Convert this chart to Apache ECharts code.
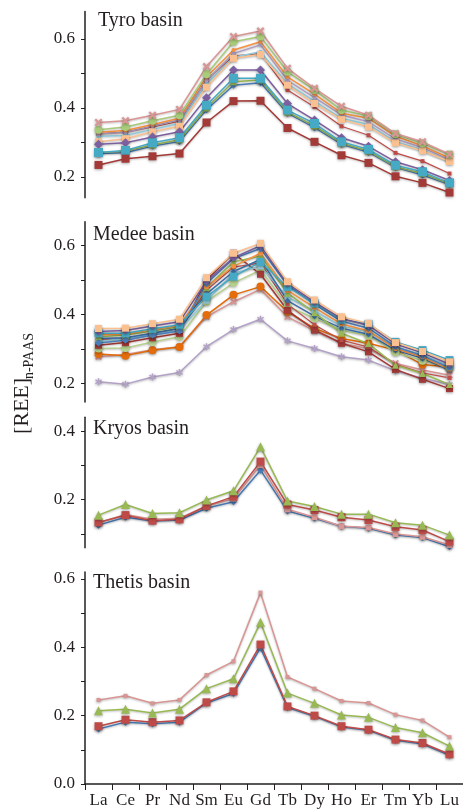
<!DOCTYPE html>
<html>
<head>
<meta charset="utf-8">
<script src="https://cdn.jsdelivr.net/npm/echarts@6/dist/echarts.min.js"></script>
<style>
  html, body { margin: 0; padding: 0; background: #fff; }
  #chart { width: 463px; height: 809px; }
</style>
</head>
<body>
<div id="chart"></div>
<script>
// REE elements (x axis)
const elements = ["La", "Ce", "Pr", "Nd", "Sm", "Eu", "Gd", "Tb", "Dy", "Ho", "Er", "Tm", "Yb", "Lu"];

// tick values per panel
const tyroTicks = [0.2, 0.3, 0.4, 0.5, 0.6];
const tyroLabels = [0.2, 0.4, 0.6];
const medeeTicks = [0.2, 0.3, 0.4, 0.5, 0.6];
const medeeLabels = [0.2, 0.4, 0.6];
const kryosTicks = [0.1, 0.2, 0.3, 0.4];
const kryosLabels = [0.2, 0.4];
const thetisTicks = [0, 0.1, 0.2, 0.3, 0.4, 0.5, 0.6];
const thetisLabels = [0, 0.2, 0.4, 0.6];

// Tyro basin
const tyroA = [0.358, 0.363, 0.379, 0.396, 0.520, 0.607, 0.623, 0.515, 0.457, 0.405, 0.379, 0.326, 0.302, 0.266];
const tyroB = [0.337, 0.345, 0.363, 0.379, 0.498, 0.592, 0.607, 0.505, 0.452, 0.394, 0.376, 0.324, 0.297, 0.265];
const tyroC = [0.330, 0.335, 0.352, 0.370, 0.490, 0.568, 0.592, 0.490, 0.440, 0.385, 0.370, 0.318, 0.290, 0.255];
const tyroD = [0.325, 0.330, 0.348, 0.365, 0.480, 0.558, 0.583, 0.480, 0.430, 0.380, 0.360, 0.310, 0.285, 0.250];
const tyroE = [0.318, 0.320, 0.338, 0.355, 0.470, 0.547, 0.563, 0.470, 0.420, 0.370, 0.352, 0.302, 0.278, 0.245];
const tyroF = [0.302, 0.311, 0.331, 0.347, 0.460, 0.544, 0.555, 0.466, 0.413, 0.367, 0.345, 0.299, 0.276, 0.245];
const tyroG = [0.325, 0.330, 0.345, 0.362, 0.481, 0.551, 0.558, 0.452, 0.403, 0.347, 0.321, 0.270, 0.246, 0.210];
const tyroH = [0.295, 0.299, 0.316, 0.331, 0.430, 0.510, 0.510, 0.413, 0.365, 0.314, 0.289, 0.244, 0.221, 0.190];
const tyroI = [0.270, 0.275, 0.293, 0.308, 0.400, 0.476, 0.481, 0.388, 0.348, 0.298, 0.275, 0.230, 0.210, 0.180];
const tyroJ = [0.268, 0.270, 0.290, 0.303, 0.395, 0.466, 0.473, 0.385, 0.343, 0.295, 0.272, 0.228, 0.206, 0.178];
const tyroK = [0.271, 0.277, 0.299, 0.314, 0.408, 0.486, 0.486, 0.394, 0.355, 0.302, 0.280, 0.234, 0.215, 0.183];
const tyroL = [0.235, 0.253, 0.260, 0.268, 0.358, 0.420, 0.421, 0.342, 0.302, 0.263, 0.241, 0.202, 0.183, 0.155];

// Medee basin
const medeeA = [0.359, 0.360, 0.373, 0.386, 0.507, 0.578, 0.607, 0.495, 0.442, 0.393, 0.374, 0.318, 0.292, 0.262];
const medeeB = [0.350, 0.353, 0.366, 0.379, 0.497, 0.565, 0.600, 0.490, 0.436, 0.388, 0.368, 0.314, 0.288, 0.255];
const medeeC = [0.345, 0.345, 0.358, 0.370, 0.452, 0.510, 0.553, 0.480, 0.432, 0.385, 0.372, 0.320, 0.296, 0.267];
const medeeD = [0.335, 0.340, 0.352, 0.364, 0.478, 0.553, 0.570, 0.462, 0.405, 0.345, 0.315, 0.252, 0.228, 0.196];
const medeeE = [0.317, 0.325, 0.340, 0.352, 0.490, 0.563, 0.592, 0.485, 0.430, 0.380, 0.360, 0.306, 0.280, 0.245];
const medeeF = [0.310, 0.318, 0.332, 0.345, 0.500, 0.578, 0.517, 0.412, 0.355, 0.316, 0.291, 0.240, 0.211, 0.184];
const medeeG = [0.340, 0.343, 0.355, 0.368, 0.480, 0.540, 0.578, 0.470, 0.420, 0.372, 0.352, 0.300, 0.276, 0.240];
const medeeH = [0.322, 0.330, 0.342, 0.355, 0.440, 0.520, 0.540, 0.450, 0.410, 0.365, 0.350, 0.305, 0.282, 0.250];
const medeeI = [0.301, 0.302, 0.320, 0.335, 0.437, 0.492, 0.529, 0.424, 0.388, 0.354, 0.338, 0.290, 0.265, 0.245];
const medeeJ = [0.285, 0.280, 0.296, 0.305, 0.398, 0.457, 0.481, 0.408, 0.359, 0.330, 0.316, 0.296, 0.254, 0.247];
const medeeK = [0.277, 0.283, 0.297, 0.306, 0.393, 0.437, 0.473, 0.393, 0.352, 0.316, 0.300, 0.258, 0.238, 0.223];
const medeeL = [0.204, 0.197, 0.218, 0.231, 0.306, 0.356, 0.386, 0.323, 0.301, 0.277, 0.267, 0.236, 0.214, 0.196];
const medeeM = [0.330, 0.332, 0.345, 0.360, 0.460, 0.525, 0.560, 0.440, 0.395, 0.360, 0.342, 0.296, 0.272, 0.238];
const medeeN = [0.325, 0.330, 0.345, 0.358, 0.470, 0.538, 0.550, 0.430, 0.370, 0.325, 0.305, 0.255, 0.230, 0.215];

// Kryos basin
const kryosGreen = [0.155, 0.186, 0.160, 0.162, 0.199, 0.226, 0.354, 0.196, 0.180, 0.158, 0.158, 0.133, 0.126, 0.097];
const kryosRed = [0.134, 0.155, 0.139, 0.143, 0.182, 0.209, 0.311, 0.186, 0.170, 0.149, 0.141, 0.121, 0.112, 0.078];
const kryosPink = [0.133, 0.157, 0.143, 0.146, 0.182, 0.203, 0.301, 0.172, 0.149, 0.123, 0.119, 0.100, 0.092, 0.068];
const kryosBlue = [0.126, 0.149, 0.138, 0.141, 0.175, 0.194, 0.286, 0.167, 0.146, 0.123, 0.117, 0.097, 0.090, 0.063];

// Thetis basin
const thetisPink = [0.246, 0.258, 0.236, 0.246, 0.319, 0.359, 0.560, 0.313, 0.279, 0.243, 0.237, 0.203, 0.186, 0.137];
const thetisGreen = [0.214, 0.219, 0.208, 0.219, 0.279, 0.308, 0.473, 0.266, 0.236, 0.202, 0.195, 0.165, 0.150, 0.111];
const thetisRed = [0.169, 0.188, 0.181, 0.186, 0.239, 0.271, 0.408, 0.227, 0.200, 0.169, 0.159, 0.130, 0.120, 0.087];
const thetisBlue = [0.161, 0.181, 0.176, 0.181, 0.237, 0.265, 0.398, 0.224, 0.198, 0.167, 0.157, 0.128, 0.117, 0.084];

const SERIF = "'Liberation Serif', 'DejaVu Serif', serif";
const INK = "#231f20";
const xMark = "path://M2,0L5,3L8,0L10,2L7,5L10,8L8,10L5,7L2,10L0,8L3,5L0,2Z";
const star = "path://M4,0H6V3.3L8.6,1.4L9.8,3L6.9,5L9.8,7L8.6,8.6L6,6.7V10H4V6.7L1.4,8.6L0.2,7L3.1,5L0.2,3L1.4,1.4L4,3.3Z";

function line(data, grid, color, symbol, size, width) {
  return {
    type: "line",
    xAxisIndex: grid,
    yAxisIndex: grid,
    data: data,
    symbol: symbol,
    symbolSize: size,
    showSymbol: true,
    animation: false,
    lineStyle: { color: color, width: width || 1.5, shadowBlur: 2, shadowColor: "rgba(0,0,0,0.25)", shadowOffsetY: 1 },
    itemStyle: { color: color, shadowBlur: 3, shadowColor: "rgba(0,0,0,0.35)", shadowOffsetY: 1 }
  };
}

function yAxis(grid, min, max, ticks, labels) {
  return {
    type: "value",
    gridIndex: grid,
    min: min,
    max: max,
    splitLine: { show: false },
    axisLine: { show: true, lineStyle: { color: INK, width: 1.5 } },
    axisTick: { show: true, length: 4, inside: false, customValues: ticks, lineStyle: { color: INK, width: 1 } },
    axisLabel: {
      customValues: labels,
      margin: 10,
      color: INK,
      fontFamily: SERIF,
      fontSize: 17,
      formatter: (v) => v.toFixed(1)
    }
  };
}

function xAxis(grid, visible) {
  return {
    type: "category",
    gridIndex: grid,
    data: elements,
    boundaryGap: true,
    show: visible,
    axisLine: { show: visible, lineStyle: { color: INK, width: 1.5 } },
    axisTick: { show: visible, length: 6, lineStyle: { color: INK, width: 1 } },
    axisLabel: { show: visible, margin: 8, color: INK, fontFamily: SERIF, fontSize: 17, interval: 0 },
    splitLine: { show: false }
  };
}

function title(text, x, y) {
  return {
    type: "text",
    x: x,
    y: y,
    style: { text: text, font: "20px " + SERIF, fill: INK, verticalAlign: "middle" }
  };
}

const chart = echarts.init(document.getElementById("chart"), null, { renderer: "canvas" });

const option = {
  backgroundColor: "#fff",
  animation: false,
  grid: [
    { left: 85, right: 0, top: 11.4, height: 186.3 },
    { left: 85, right: 0, top: 221.7, height: 180.3 },
    { left: 85, right: 0, top: 417.3, height: 130.5 },
    { left: 85, right: 0, top: 572.1, height: 213.6 }
  ],
  xAxis: [xAxis(0, false), xAxis(1, false), xAxis(2, false), xAxis(3, true)],
  yAxis: [
    yAxis(0, 0.14, 0.68, tyroTicks, tyroLabels),
    yAxis(1, 0.145, 0.67, medeeTicks, medeeLabels),
    yAxis(2, 0.06, 0.44, kryosTicks, kryosLabels),
    yAxis(3, 0, 0.62, thetisTicks, thetisLabels)
  ],
  graphic: [
    title("Tyro basin", 98, 21),
    title("Medee basin", 93, 235),
    title("Kryos basin", 93, 429),
    title("Thetis basin", 93, 583),
    {
      type: "text", x: 22, y: 406, rotation: Math.PI / 2,
      style: { text: "[REE]", font: "22px " + SERIF, fill: INK, align: "center", verticalAlign: "middle" }
    },
    {
      type: "text", x: 29, y: 356, rotation: Math.PI / 2,
      style: { text: "n-PAAS", font: "14px " + SERIF, fill: INK, align: "center", verticalAlign: "middle" }
    }
  ],
  series: [
    // Tyro
    line(tyroJ, 0, "#4a7ebb", "diamond", 7),
    line(tyroI, 0, "#98b954", "triangle", 7),
    line(tyroG, 0, "#be4b48", "rect", 4, 1.2),
    line(tyroE, 0, "#93cddd", "circle", 4),
    line(tyroD, 0, "#b3a2c7", "circle", 4),
    line(tyroC, 0, "#f69240", "circle", 4),
    line(tyroF, 0, "#fac090", "rect", 7),
    line(tyroB, 0, "#a9cc7a", "circle", 8),
    line(tyroA, 0, "#d99694", xMark, 8),
    line(tyroH, 0, "#7d60a0", "diamond", 9),
    line(tyroK, 0, "#46aac5", "rect", 9),
    line(tyroL, 0, "#a33a37", "rect", 8),
    // Medee
    line(medeeL, 1, "#b3a2c7", star, 7),
    line(medeeK, 1, "#d99694", xMark, 7),
    line(medeeJ, 1, "#e46c0a", "circle", 8),
    line(medeeI, 1, "#b7d28d", "circle", 8),
    line(medeeF, 1, "#a33a37", "rect", 7),
    line(medeeN, 1, "#c0504d", "rect", 4, 1.2),
    line(medeeH, 1, "#93cddd", "rect", 6),
    line(medeeM, 1, "#3b6ea5", "diamond", 6),
    line(medeeD, 1, "#98b954", "triangle", 7),
    line(medeeG, 1, "#f69240", "circle", 5),
    line(medeeE, 1, "#4a7ebb", "diamond", 7),
    line(medeeC, 1, "#46aac5", "rect", 8),
    line(medeeB, 1, "#7d60a0", "diamond", 8),
    line(medeeA, 1, "#fac090", "rect", 7),
    // Kryos
    line(kryosBlue, 2, "#4a7ebb", "diamond", 7),
    line(kryosPink, 2, "#d99694", "rect", 6),
    line(kryosRed, 2, "#be4b48", "rect", 8),
    line(kryosGreen, 2, "#98b954", "triangle", 9),
    // Thetis
    line(thetisBlue, 3, "#4a7ebb", "diamond", 7),
    line(thetisRed, 3, "#be4b48", "rect", 8),
    line(thetisGreen, 3, "#98b954", "triangle", 9),
    line(thetisPink, 3, "#d99694", "rect", 4)
  ]
};

chart.setOption(option);
</script>
</body>
</html>
